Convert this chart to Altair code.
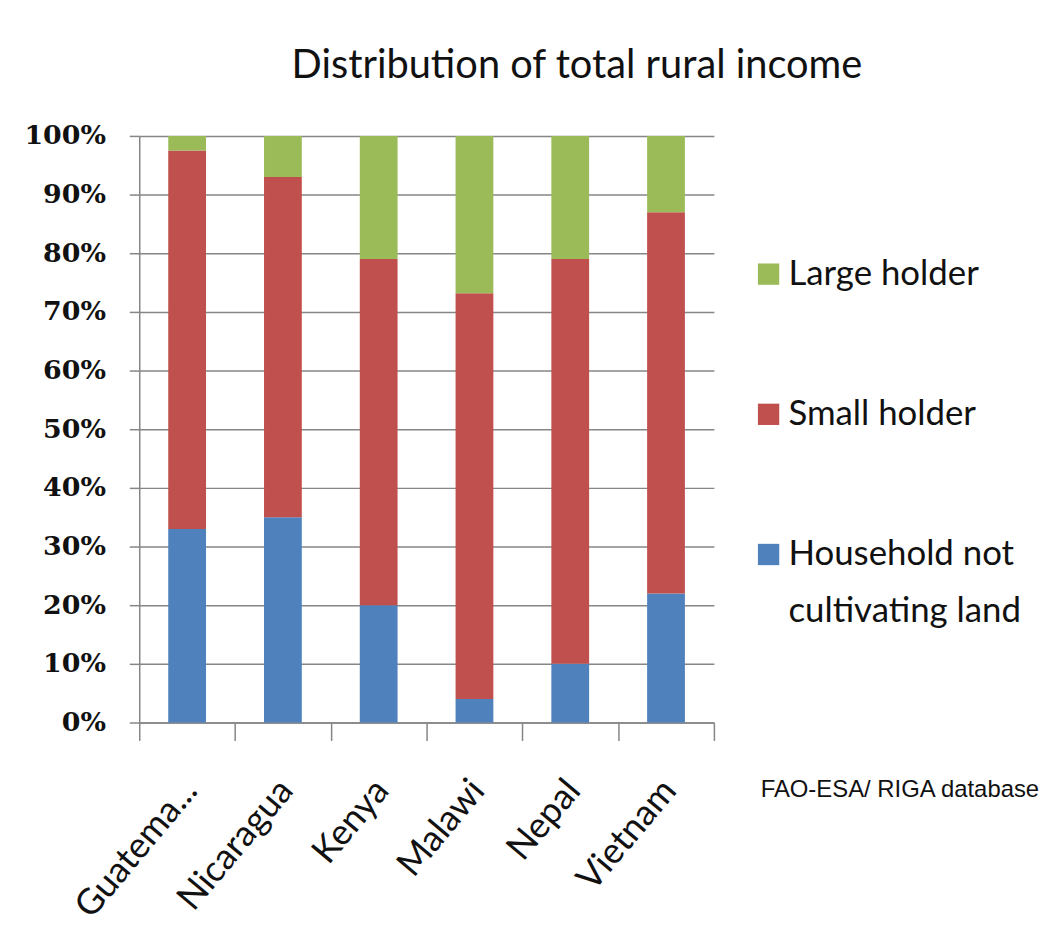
import altair as alt
import pandas as pd

# ---- data ----
countries = ["Guatemala", "Nicaragua", "Kenya", "Malawi", "Nepal", "Vietnam"]
series = ["Household not cultivating land", "Small holder", "Large holder"]
colors = ["#4F81BD", "#C0504D", "#9BBB59"]
household = [33, 35, 20, 4, 10, 22]
small = [64.5, 58, 59, 69.2, 69, 65]
large = [2.5, 7, 21, 26.8, 21, 13]
y_ticks = [0, 0.1, 0.2, 0.3, 0.4, 0.5, 0.6, 0.7, 0.8, 0.9, 1.0]
legend_order = ["Large holder", "Small holder", "Household not cultivating land"]
legend_labels = ["Large holder", "Small holder", "Household not\ncultivating land"]
title_text = "Distribution of total rural income"
source_text = ["FAO-ESA/ RIGA database"]

rows = []
for i, c in enumerate(countries):
    for k, (s, vals) in enumerate(zip(series, [household, small, large])):
        rows.append({"country": c, "series": s, "value": vals[i], "order": k})
df = pd.DataFrame(rows)

color_scale = alt.Scale(domain=series, range=colors)
GRAY = "#868686"
INK = "#111111"

bars = alt.Chart(df).mark_bar(size=38).encode(
    x=alt.X(
        "country:N",
        sort=countries,
        scale=alt.Scale(paddingInner=0, paddingOuter=0),
        axis=alt.Axis(
            title=None, tickBand="extent", grid=False,
            domainColor=GRAY, domainWidth=1.5,
            tickColor=GRAY, tickWidth=1.5, tickSize=18,
            labelAngle=-50, labelAlign="right", labelBaseline="middle",
            labelPadding=44, labelOffset=3,
            labelFont="Lato", labelFontSize=36, labelColor=INK,
            labelExpr="datum.label == 'Guatemala' ? 'Guatema...' : datum.label",
        ),
    ),
    y=alt.Y(
        "value:Q",
        stack="normalize",
        scale=alt.Scale(domain=[0, 1]),
        axis=alt.Axis(
            title=None, values=y_ticks, format=".0%",
            domainColor=GRAY, domainWidth=1.5,
            tickColor=GRAY, tickWidth=1.5, tickSize=10,
            gridColor=GRAY, gridWidth=1.5,
            labelPadding=24, labelFont="DejaVu Serif", labelFontWeight="bold",
            labelFontSize=27, labelColor=INK,
        ),
    ),
    color=alt.Color("series:N", scale=color_scale, legend=None),
    order=alt.Order("order:Q", sort="ascending"),
).properties(width=578, height=590)

leg_df = pd.DataFrame({"series": legend_order, "label": legend_labels})
leg_y = alt.Y("series:N", sort=legend_order,
              scale=alt.Scale(type="point", range=[139, 421], padding=0), axis=None)

leg_sq = alt.Chart(leg_df).mark_square(size=460, opacity=1).encode(
    x=alt.value(10), y=leg_y,
    color=alt.Color("series:N", scale=color_scale, legend=None),
)
leg_tx = alt.Chart(leg_df).mark_text(
    align="left", baseline="top", dy=-17, font="Lato", fontSize=35,
    lineBreak="\n", lineHeight=57, color=INK,
).encode(x=alt.value(30), y=leg_y, text="label:N")

src = alt.Chart(pd.DataFrame({"t": source_text})).mark_text(
    align="left", baseline="middle", font="Liberation Sans", fontSize=24, color=INK,
).encode(x=alt.value(2), y=alt.value(658), text="t:N")

legend_panel = alt.layer(leg_sq, leg_tx, src).properties(width=280, height=590)

chart = alt.hconcat(bars, legend_panel, spacing=43).properties(
    title=alt.Title(title_text, font="Lato", fontSize=40, fontWeight="normal",
                    color=INK, anchor="middle", offset=36, dx=45),
    padding={"left": 15, "top": 36, "right": 0, "bottom": 0},
).configure_view(stroke=None)

chart.save("out.html", embed_options={"renderer": "svg", "actions": False})
